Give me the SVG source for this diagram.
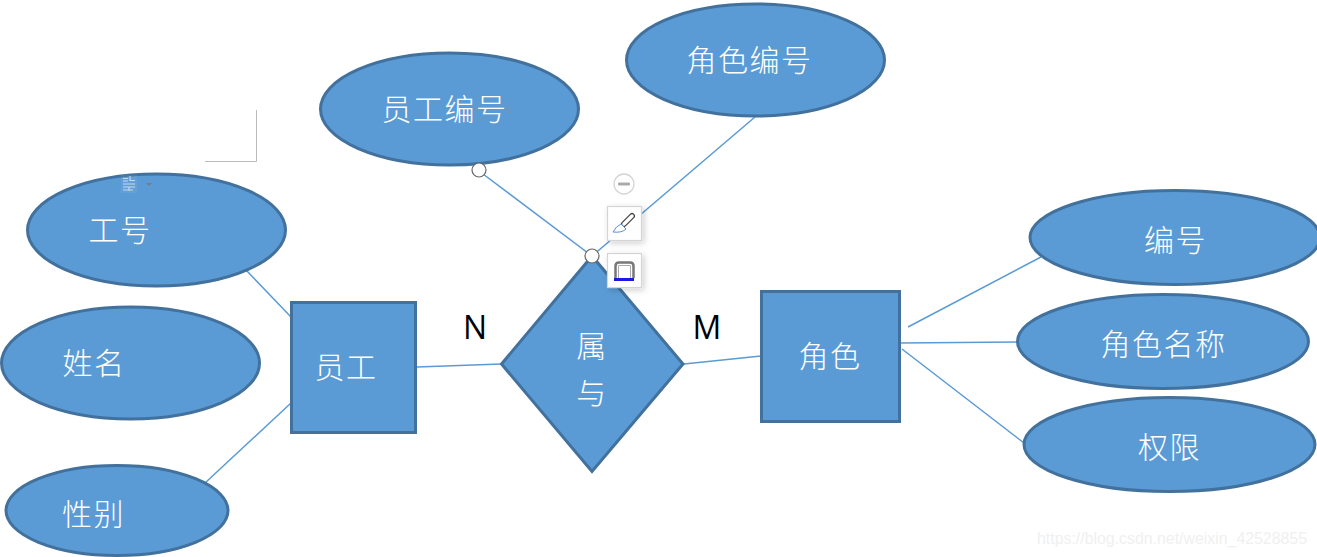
<svg xmlns="http://www.w3.org/2000/svg" width="1317" height="557" viewBox="0 0 1317 557">
<style>
.s{fill:#5b9bd5;stroke:#41719c;stroke-width:3}
.l{stroke:#5b9bd5;stroke-width:1.5;fill:none}
.t{font-family:"Noto Sans CJK SC","Liberation Sans",sans-serif;font-size:30px;font-weight:300;fill:#fff;text-anchor:middle;letter-spacing:1.500px}
.m{font-family:"Open Sans","Liberation Sans",sans-serif;font-size:32px;fill:#000;text-anchor:middle}
.h{fill:#fff;stroke:#666;stroke-width:1.2}
.b{fill:#fff;stroke:#d4d4d4;stroke-width:1.2}
</style>
<defs><filter id="sh" x="-20%" y="-20%" width="150%" height="150%"><feDropShadow dx="2" dy="2" stdDeviation="3" flood-color="#000" flood-opacity=".2"/></filter></defs>
<rect width="1317" height="557" fill="#fff"/>
<g id="connectors">
<path class="l" d="M246 270L291 317M291 403L205 483M417 367L501 364M684 364L761 356M483 174L592 256M592 256L755 117M908 327L1041 257M900 343L1018 342M902 349L1024 443"/>
</g>
<g id="node-gonghao"><ellipse class="s" cx="156.500" cy="230" rx="129" ry="56"/><text class="t" x="120" y="241">工号</text></g>
<g id="node-xingming"><ellipse class="s" cx="130.500" cy="363" rx="129" ry="56"/><text class="t" x="94" y="374">姓名</text></g>
<g id="node-xingbie"><ellipse class="s" cx="117" cy="510.500" rx="111" ry="45"/><text class="t" x="93.500" y="525">性别</text></g>
<g id="node-yuangong"><rect class="s" x="291.500" y="302.500" width="124" height="130"/><text class="t" x="346" y="378">员工</text></g>
<g id="node-yuangongbianhao"><ellipse class="s" cx="449.500" cy="109" rx="129" ry="56"/><text class="t" x="444.500" y="120">员工编号</text></g>
<g id="node-jiaosebianhao"><ellipse class="s" cx="755.500" cy="60" rx="129" ry="56"/><text class="t" x="749.500" y="71">角色编号</text></g>
<g id="node-shuyu"><path class="s" d="M592 256L683 364L592 471.500L501.500 364Z"/><text class="t" x="592" y="357">属</text><text class="t" x="592" y="404">与</text></g>
<g id="node-jiaose"><rect class="s" x="761.500" y="291.500" width="138" height="130"/><text class="t" x="830" y="367">角色</text></g>
<g id="node-bianhao"><ellipse class="s" cx="1175" cy="237.500" rx="145" ry="47"/><text class="t" x="1175.500" y="251">编号</text></g>
<g id="node-jiaosemingcheng"><ellipse class="s" cx="1163" cy="341.500" rx="145.500" ry="47"/><text class="t" x="1163.500" y="355">角色名称</text></g>
<g id="node-quanxian"><ellipse class="s" cx="1169.500" cy="444.500" rx="145.500" ry="47"/><text class="t" x="1169.500" y="458">权限</text></g>
<text class="m" x="475" y="339">N</text>
<text class="m" x="707" y="339">M</text>
<g id="ui-overlay">
<path d="M205 161.500H256.500V110" fill="none" stroke="#bbb" stroke-width="1"/>
<circle class="h" cx="479" cy="170" r="7"/>
<circle class="h" cx="592" cy="256" r="7"/>
<circle cx="624" cy="184" r="10" fill="#fff" stroke="#d4d4d4" stroke-width="1.300"/>
<rect x="618" y="182.500" width="12" height="3" rx="1" fill="#aaa"/>
<rect x="607.500" y="206.500" width="34" height="34" class="b" filter="url(#sh)"/>
<rect x="607.500" y="253.500" width="34" height="34" class="b" filter="url(#sh)"/>
<path d="M632 216L624 224" stroke="#444" stroke-width="6" stroke-linecap="round"/>
<path d="M632 216L624 224" stroke="#fff" stroke-width="3.500" stroke-linecap="round"/>
<path d="M621 224L626 229Q622 233 613 232Q616 226 621 224Z" fill="#fff" stroke="#5b8fd9" stroke-width="1"/>
<path d="M615.500 278V266Q615.500 262.500 619 262.500H630Q633.500 262.500 633.500 266V278" fill="none" stroke="#777" stroke-width="2.500"/>
<path d="M618.500 278V265.500H630.500V278" fill="#fff" stroke="#aaa" stroke-width="1"/>
<rect x="614" y="278" width="20" height="3" fill="#1a1ae6"/>
<rect x="121" y="175" width="16" height="18" fill="#fff" opacity=".06"/>
<g stroke="#c4d8ee" stroke-width="1.200" fill="none"><path d="M123 178.500H128M123 181H128M123 184H135M123 187H135M123 190H133M130 176V180.500H135M129 187V191"/></g>
<path d="M146 183H152L149 186Z" fill="#6f7f90"/>
</g>
<text x="1172" y="544" font-family="Liberation Sans,sans-serif" font-size="16" textLength="270" lengthAdjust="spacingAndGlyphs" fill="#f0f0f0" text-anchor="middle">https://blog.csdn.net/weixin_42528855</text>
</svg>
